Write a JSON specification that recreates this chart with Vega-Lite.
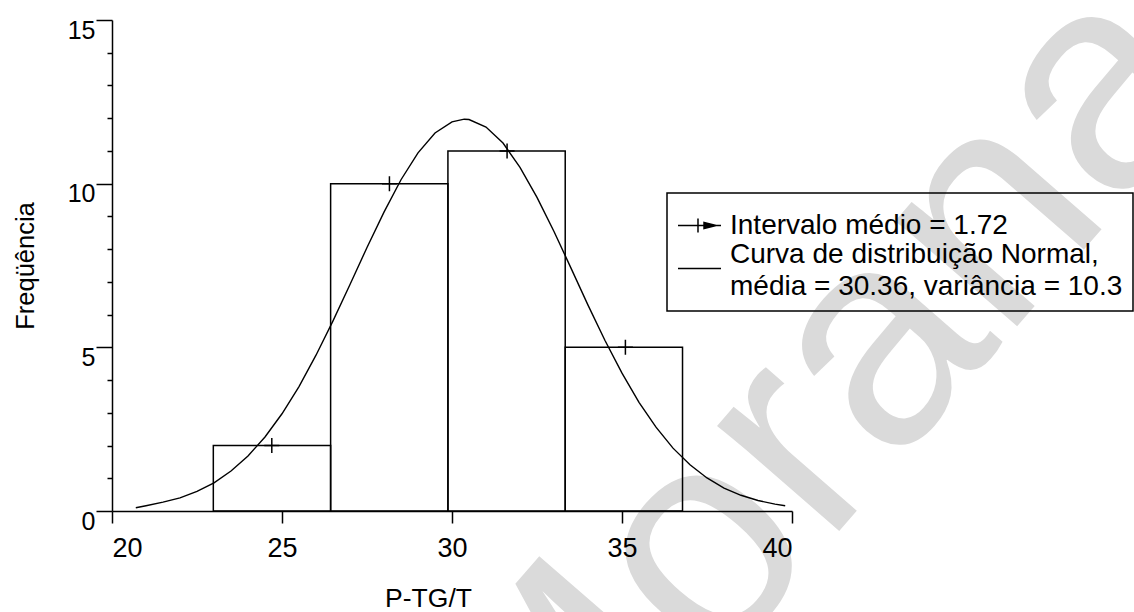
{
  "$schema": "https://vega.github.io/schema/vega-lite/v6.json",
  "width": 680,
  "height": 491,
  "autosize": {"type": "none"},
  "padding": {"left": 112, "top": 20, "right": 342, "bottom": 101},
  "background": "white",
  "config": {
    "view": {"stroke": null},
    "font": "Liberation Sans",
    "axis": {
      "domainColor": "black",
      "domainWidth": 1.5,
      "tickColor": "black",
      "tickWidth": 1.5,
      "labelColor": "black",
      "labelFont": "Liberation Sans",
      "titleColor": "black",
      "titleFont": "Liberation Sans",
      "titleFontWeight": "normal",
      "grid": false,
      "zindex": 1
    }
  },
  "resolve": {"axis": {"y": "independent"}},
  "datasets": {
    "marca": [{"texto": "Morana"}],
    "classes": [
      {"inicio": 22.98, "fim": 26.43, "centro": 24.70, "frequencia": 2},
      {"inicio": 26.43, "fim": 29.88, "centro": 28.16, "frequencia": 10},
      {"inicio": 29.88, "fim": 33.33, "centro": 31.62, "frequencia": 11},
      {"inicio": 33.33, "fim": 36.78, "centro": 35.10, "frequencia": 5}
    ],
    "normal": [
      {"x": 20.7, "y": 0.1},
      {"x": 21.0, "y": 0.16},
      {"x": 21.5, "y": 0.27},
      {"x": 22.0, "y": 0.40},
      {"x": 22.5, "y": 0.60},
      {"x": 23.0, "y": 0.86},
      {"x": 23.5, "y": 1.22},
      {"x": 24.0, "y": 1.68},
      {"x": 24.5, "y": 2.26},
      {"x": 25.0, "y": 2.97},
      {"x": 25.5, "y": 3.80},
      {"x": 26.0, "y": 4.76},
      {"x": 26.5, "y": 5.81},
      {"x": 27.0, "y": 6.92},
      {"x": 27.5, "y": 8.05},
      {"x": 28.0, "y": 9.13},
      {"x": 28.5, "y": 10.12},
      {"x": 29.0, "y": 10.94},
      {"x": 29.5, "y": 11.55},
      {"x": 30.0, "y": 11.89},
      {"x": 30.36, "y": 11.97},
      {"x": 30.5, "y": 11.96},
      {"x": 31.0, "y": 11.73},
      {"x": 31.5, "y": 11.24},
      {"x": 32.0, "y": 10.50},
      {"x": 32.5, "y": 9.58},
      {"x": 33.0, "y": 8.54},
      {"x": 33.5, "y": 7.42},
      {"x": 34.0, "y": 6.29},
      {"x": 34.5, "y": 5.21},
      {"x": 35.0, "y": 4.21},
      {"x": 35.5, "y": 3.32},
      {"x": 36.0, "y": 2.56},
      {"x": 36.5, "y": 1.92},
      {"x": 37.0, "y": 1.41},
      {"x": 37.5, "y": 1.01},
      {"x": 38.0, "y": 0.70},
      {"x": 38.5, "y": 0.48},
      {"x": 39.0, "y": 0.32},
      {"x": 39.5, "y": 0.21},
      {"x": 39.8, "y": 0.16}
    ]
  },
  "layer": [
    {
      "data": {"name": "marca"},
      "mark": {"type": "text", "fontSize": 305, "angle": -49, "align": "center", "baseline": "middle", "color": "#dadada", "font": "Liberation Sans"},
      "encoding": {
        "text": {"field": "texto"},
        "x": {"datum": 40.74, "type": "quantitative", "axis": {"zindex": 1}},
        "y": {"datum": 2.9, "type": "quantitative", "axis": null}
      }
    },
    {
      "data": {"name": "classes"},
      "mark": {"type": "rect", "fill": "transparent", "stroke": "black", "strokeWidth": 1.5},
      "encoding": {
        "x": {
          "field": "inicio",
          "type": "quantitative",
          "scale": {"domain": [20, 40], "nice": false, "zero": false},
          "axis": {
            "zindex": 1,
            "values": [20, 25, 30, 35, 40],
            "tickSize": 12,
            "labelFontSize": 27,
            "labelPadding": 12,
            "labelBaseline": "top",
            "title": "P-TG/T",
            "titleFontSize": 26.5,
            "titleX": 316,
            "titleY": 95,
            "titleAlign": "center",
            "titleBaseline": "alphabetic"
          }
        },
        "x2": {"field": "fim"},
        "y": {
          "field": "frequencia",
          "type": "quantitative",
          "scale": {"domain": [0, 15], "nice": false},
          "axis": {
            "zindex": 1,
            "orient": "left",
            "values": [0, 5, 10, 15],
            "tickSize": 16,
            "labelOverlap": false,
            "labelFontSize": 25,
            "labelPadding": 1,
            "labelBaseline": "top",
            "labelOffset": -2,
            "title": "Freqüência",
            "titleFontSize": 25.5,
            "titleAngle": -90,
            "titleX": -79,
            "titleY": 245.5,
            "titleAlign": "center",
            "titleBaseline": "alphabetic"
          }
        },
        "y2": {"datum": 0}
      }
    },
    {
      "data": {"name": "normal"},
      "mark": {"type": "line", "strokeWidth": 1.4, "interpolate": "linear"},
      "encoding": {
        "x": {"field": "x", "type": "quantitative"},
        "y": {"field": "y", "type": "quantitative", "axis": null},
        "color": {
          "datum": "Curva de distribuição Normal, média = 30.36, variância = 10.3",
          "type": "nominal",
          "scale": {
            "domain": ["Intervalo médio = 1.72", "Curva de distribuição Normal, média = 30.36, variância = 10.3"],
            "range": ["black", "black"]
          },
          "legend": {
            "orient": "none",
            "legendX": 555,
            "legendY": 173,
            "title": null,
            "strokeColor": "black",
            "padding": 10,
            "labelFontSize": 28,
            "labelFont": "Liberation Sans",
            "labelColor": "black",
            "labelLimit": 800,
            "labelOffset": 8,
            "symbolSize": 1849,
            "rowPadding": -7,
            "labelExpr": "datum.label === 'Intervalo médio = 1.72' ? datum.label : ['Curva de distribuição Normal,', 'média = 30.36, variância = 10.3']",
            "encode": {
              "symbols": {
                "update": {
                  "shape": {"signal": "datum.value === 'Intervalo médio = 1.72' ? 'M-1,0H1M-0.07,-0.33V0.33M0.21,-0.14L0.77,0L0.21,0.14Z' : 'M-1,0.28H1'"},
                  "fill": {"value": "black"},
                  "stroke": {"value": "black"},
                  "strokeWidth": {"value": 1.5},
                  "opacity": {"value": 1}
                }
              },
              "labels": {
                "update": {
                  "lineHeight": {"value": 32},
                  "dy": {"signal": "datum.value === 'Intervalo médio = 1.72' ? 0 : -8"}
                }
              },
              "legend": {"update": {"strokeWidth": {"value": 1.5}}}
            }
          }
        }
      }
    },
    {
      "data": {"name": "classes"},
      "mark": {"type": "point", "shape": "M-1,0H1M0,-1V1", "size": 225, "filled": false, "strokeWidth": 1.5, "opacity": 1},
      "encoding": {
        "x": {"field": "centro", "type": "quantitative"},
        "y": {
          "field": "frequencia",
          "type": "quantitative",
          "axis": {
            "zindex": 1,
            "orient": "left",
            "values": [1, 2, 3, 4, 6, 7, 8, 9, 11, 12, 13, 14],
            "tickSize": 5,
            "labels": false,
            "domain": false,
            "title": null
          }
        },
        "color": {"datum": "Intervalo médio = 1.72", "type": "nominal"}
      }
    }
  ]
}
